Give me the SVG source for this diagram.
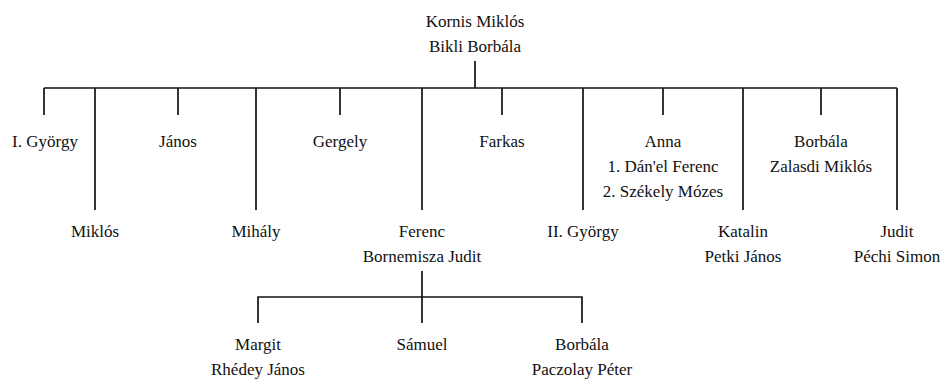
<svg xmlns="http://www.w3.org/2000/svg" width="944" height="380" viewBox="0 0 944 380">
<style>
text{font-family:"Liberation Serif","DejaVu Serif",serif;font-size:17px;fill:#111;text-anchor:middle}
.c path{stroke:#111;stroke-width:1.7;fill:none}
</style>
<rect width="944" height="380" fill="#fff"/>
<g class="c" id="connectors">
<path d="M475 61V88"/>
<path d="M44 88H897"/>
<path d="M44 88V115M178 88V115M340 88V115M502 88V115M663 88V115M821 88V115"/>
<path d="M95 88V210M256 88V210M422 88V210M583 88V210M743 88V210M897 88V210"/>
<path d="M422 271V323"/>
<path d="M258 323V297H582V323"/>
</g>
<g id="root"><text x="475" y="27">Kornis Miklós</text><text x="475" y="52">Bikli Borbála</text></g>
<g id="gyorgy1"><text x="45" y="147">I. György</text></g>
<g id="miklos"><text x="95" y="237">Miklós</text></g>
<g id="janos"><text x="178" y="147">János</text></g>
<g id="mihaly"><text x="256" y="237">Mihály</text></g>
<g id="gergely"><text x="340" y="147">Gergely</text></g>
<g id="ferenc"><text x="422" y="237">Ferenc</text><text x="422" y="262">Bornemisza Judit</text></g>
<g id="farkas"><text x="502" y="147">Farkas</text></g>
<g id="gyorgy2"><text x="583" y="237">II. György</text></g>
<g id="anna"><text x="663" y="147">Anna</text><text x="663" y="172">1. Dán'el Ferenc</text><text x="663" y="197">2. Székely Mózes</text></g>
<g id="katalin"><text x="743" y="237">Katalin</text><text x="743" y="262">Petki János</text></g>
<g id="borbala"><text x="821" y="147">Borbála</text><text x="821" y="172">Zalasdi Miklós</text></g>
<g id="judit"><text x="897" y="237">Judit</text><text x="897" y="262">Péchi Simon</text></g>
<g id="margit"><text x="258" y="350">Margit</text><text x="258" y="375">Rhédey János</text></g>
<g id="samuel"><text x="422" y="350">Sámuel</text></g>
<g id="borbala2"><text x="582" y="350">Borbála</text><text x="582" y="375">Paczolay Péter</text></g>
</svg>
